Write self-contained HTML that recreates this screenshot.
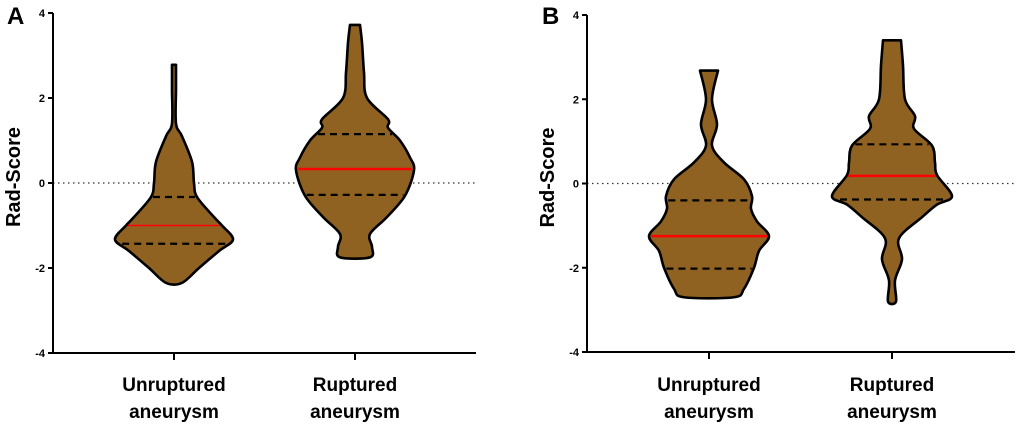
<!DOCTYPE html>
<html><head><meta charset="utf-8"><style>
body{margin:0;background:#fff}
svg{display:block;font-family:"Liberation Sans",Arial,sans-serif}
</style></head><body>
<svg id="c" width="1020" height="427" viewBox="0 0 1020 427"></svg>
<script>
const categories=["Unruptured aneurysm","Ruptured aneurysm"];
const yTicks=[4,2,0,-2,-4];
const tickLabels=["4","2","0","-2","-4"];
// profiles: [value, half-width px]
const aUnrupt=[[2.78,2],[2.2,2],[1.4,2],[1.1,8],[0.5,18],[0,20],[-0.33,23],[-0.8,40],[-1.0,48],[-1.33,59],[-1.6,45],[-2.0,25],[-2.35,8]];
const aRupt=[[3.72,5],[3.3,7],[2.6,9],[2.0,12],[1.5,33],[1.3,33],[1.0,45],[0.6,55],[0.3,59],[-0.3,50],[-0.8,32],[-1.2,15],[-1.5,17],[-1.75,15]];
const bUnrupt=[[2.68,9],[2.0,3],[1.4,8],[0.9,3],[0.5,15],[0.1,35],[-0.3,43],[-0.6,42],[-0.9,48],[-1.25,60],[-1.6,50],[-2.0,45],[-2.5,35],[-2.7,25]];
const bRupt=[[3.4,9],[2.8,11],[2.0,13],[1.6,23],[1.3,22],[0.9,40],[0.5,43],[0.2,45],[-0.3,60],[-0.5,45],[-0.8,30],[-1.3,7],[-1.8,10],[-2.3,3],[-2.8,4]];
const aQuart=[[-0.33,-1.0,-1.43],[1.15,0.33,-0.28]];
const bQuart=[[-0.4,-1.25,-2.02],[0.93,0.18,-0.38]];
const NS="http://www.w3.org/2000/svg";
const svg=document.getElementById('c');
function mk(t,a,p){const e=document.createElementNS(NS,t);for(const k in a)e.setAttribute(k,a[k]);(p||svg).appendChild(e);return e;}
function panel(P){
  const g=mk('g',{});
  
  
  const y=v=>P.y0+(4-v)*(P.y1-P.y0)/8;
  const cx=[P.c0,P.c1];
  // zero line
  const z=mk('line',{x1:P.ax,x2:P.xEnd,y1:y(0),y2:y(0),stroke:'#333','stroke-width':1.3,'stroke-dasharray':'1.5 3.5'},g);
  
  
  [P.v0,P.v1].forEach((prof,i)=>{
    const L=prof.map(p=>[cx[i]-p[1],y(p[0])]), R=prof.map(p=>[cx[i]+p[1],y(p[0])]);
    const pts=R.concat(L.slice().reverse());
    let d='M'+pts[0].join(',');
    for(let k=0;k<pts.length-1;k++){
      const p0=pts[Math.max(0,k-1)],p1=pts[k],p2=pts[k+1],p3=pts[Math.min(pts.length-1,k+2)];
      d+=` C${p1[0]+(p2[0]-p0[0])/6},${p1[1]+(p2[1]-p0[1])/6} ${p2[0]-(p3[0]-p1[0])/6},${p2[1]-(p3[1]-p1[1])/6} ${p2[0]},${p2[1]}`;
    }
    d+='Z';
    const v=mk('path',{d:d,fill:'#8f6222',stroke:'#000','stroke-width':2.6,'stroke-linejoin':'round'},g);
    
    
    const hw=val=>{for(let k=0;k<prof.length-1;k++){const a=prof[k],b=prof[k+1];if(val<=a[0]&&val>=b[0]){return a[1]+(b[1]-a[1])*(a[0]-val)/(a[0]-b[0]);}}return 0;};
    P.q[i].forEach((qv,j)=>{
      const w=hw(qv)-2;
      const l=mk('line',{x1:cx[i]-w,x2:cx[i]+w,y1:y(qv),y2:y(qv),stroke:j==1?'#f00':'#000','stroke-width':j==1?(P.letter=='A'&&i==0?1.5:2.5):2.2,'stroke-dasharray':j==1?'none':'7 5'},g);
      
      
    });
  });
  const ya=mk('line',{x1:P.ax,x2:P.ax,y1:P.y0,y2:P.y1+1,stroke:'#000','stroke-width':2},g);
  
  
  const xa=mk('line',{x1:P.ax-1,x2:P.xEnd,y1:P.y1,y2:P.y1,stroke:'#000','stroke-width':2},g);
  
  
  yTicks.forEach((t,i)=>{
    mk('line',{x1:P.ax-5,x2:P.ax,y1:y(t),y2:y(t),stroke:'#000','stroke-width':2},g);
    const tx=mk('text',{x:P.ax-8,y:y(t)+4,'text-anchor':'end','font-size':11,'font-weight':'bold'},g);
    tx.textContent=tickLabels[i];
    
    
  });
  categories.forEach((c,i)=>{
    mk('line',{x1:cx[i],x2:cx[i],y1:P.y1,y2:P.y1+7,stroke:'#000','stroke-width':2},g);
    const parts=c.split(' ');
    parts.forEach((w,k)=>{
      const tx=mk('text',{x:cx[i],y:391+k*27,'text-anchor':'middle','font-size':19,'font-weight':'bold'},g);
      tx.textContent=w;
      
      
    });
  });
  const yt=mk('text',{x:0,y:0,'text-anchor':'middle','font-size':20,'font-weight':'bold',transform:`translate(${P.ax-33},${y(0)-6}) rotate(-90)`},g);
  yt.textContent='Rad-Score';
  
  
  const lt=mk('text',{x:P.lx,y:24,'font-size':24,'font-weight':'bold'},g);
  lt.textContent=P.letter;
  
  
}
panel({letter:'A',lx:7,ax:53,xEnd:476,y0:13,y1:353,c0:174,c1:355,v0:aUnrupt,v1:aRupt,q:aQuart});
panel({letter:'B',lx:542,ax:587,xEnd:1015,y0:15,y1:352,c0:709,c1:892,v0:bUnrupt,v1:bRupt,q:bQuart});
</script>
</body></html>
